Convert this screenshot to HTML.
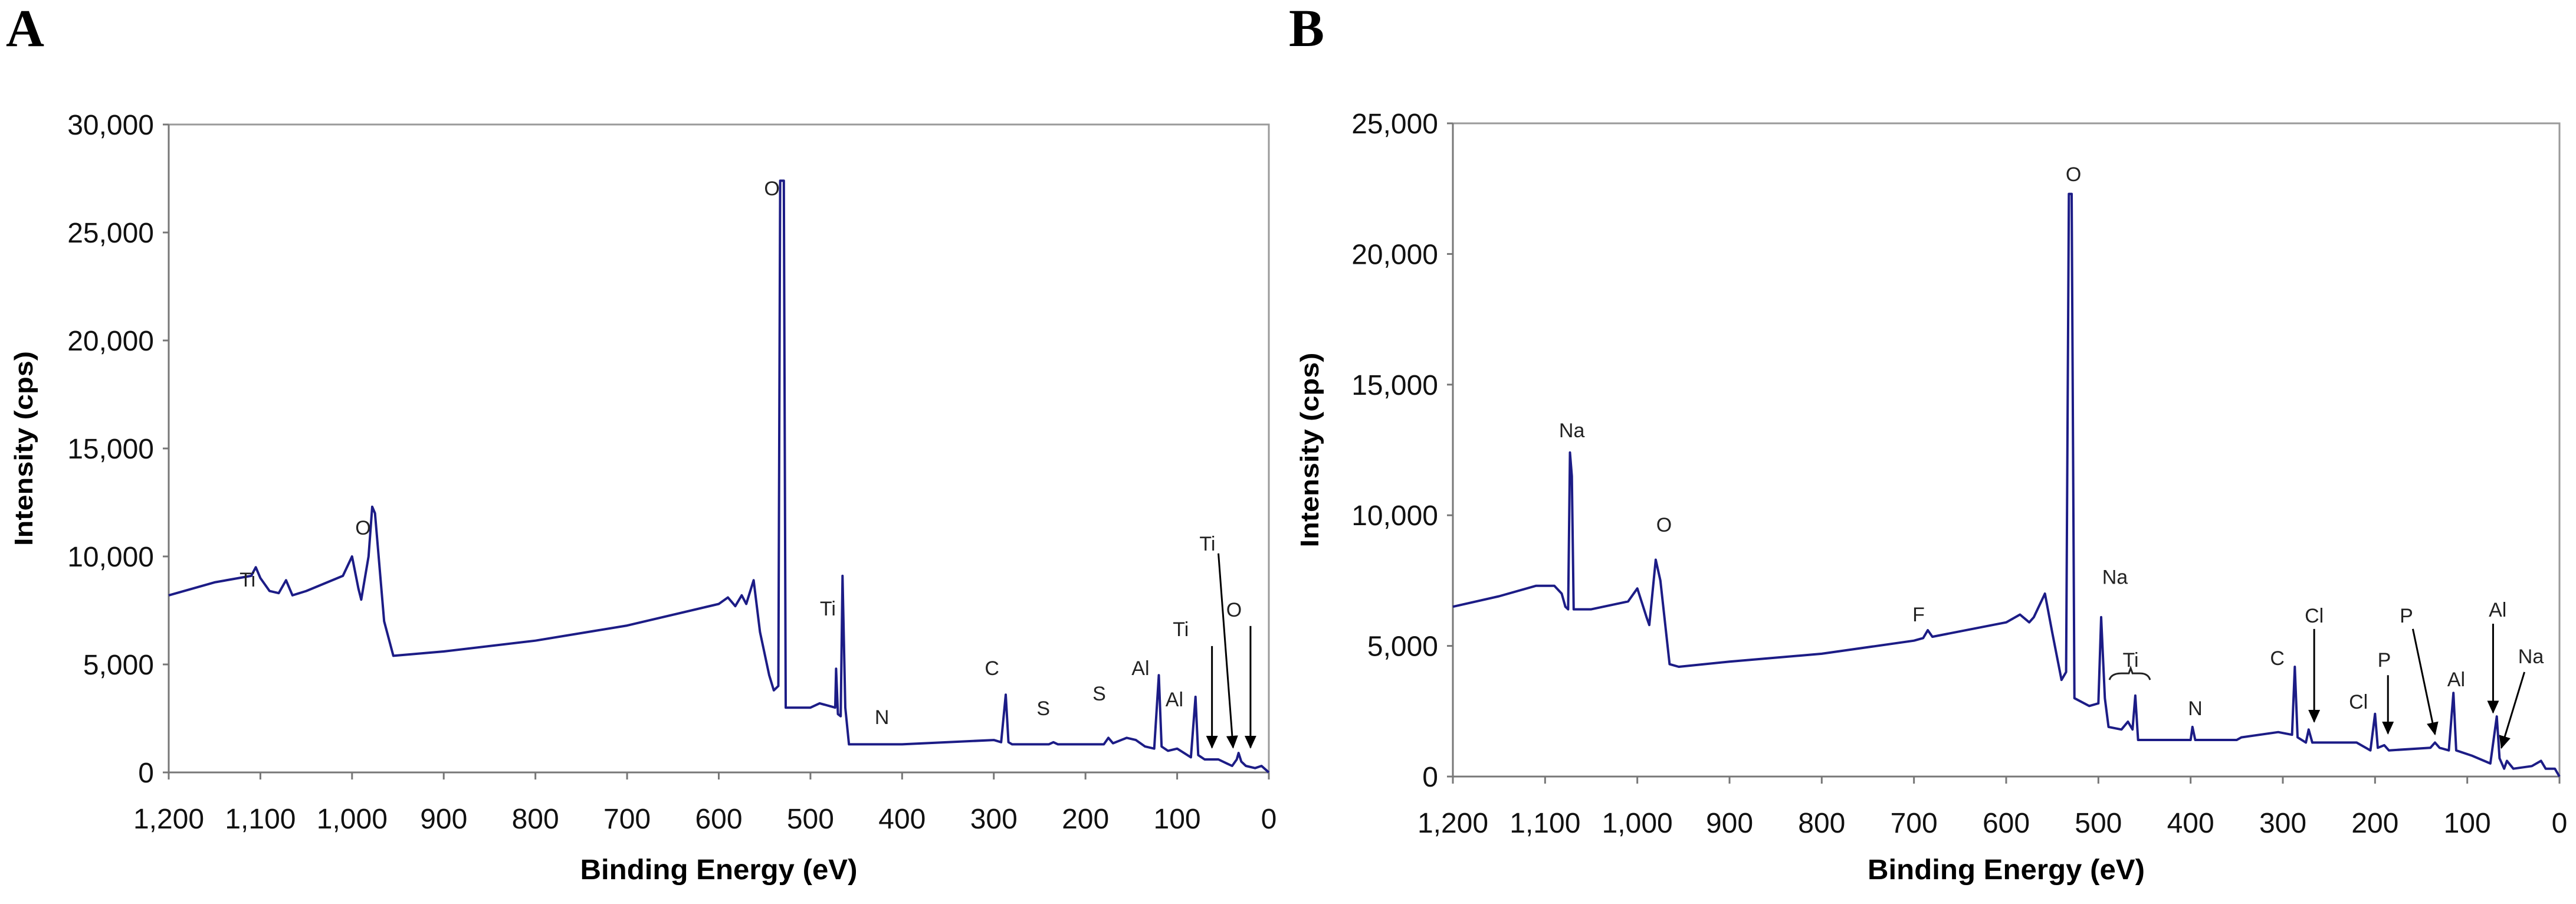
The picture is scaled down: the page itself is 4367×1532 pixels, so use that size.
<!DOCTYPE html>
<html><head><meta charset="utf-8"><style>
html,body{margin:0;padding:0;background:#fff;}
svg{display:block;font-family:"Liberation Sans",Arial,sans-serif;}
</style></head><body>
<svg id="chart" width="4367" height="1532" viewBox="0 0 4367 1532" xmlns="http://www.w3.org/2000/svg">
<text x="10" y="78" font-family="Liberation Serif,serif" font-weight="bold" font-size="90">A</text>
<text x="2185" y="78" font-family="Liberation Serif,serif" font-weight="bold" font-size="90">B</text>
</svg>
<script>
const xTicks=[1200,1100,1000,900,800,700,600,500,400,300,200,100,0];
const xTickLabels=["1,200","1,100","1,000","900","800","700","600","500","400","300","200","100","0"];
const aYTicks=[0,5000,10000,15000,20000,25000,30000];
const aYTickLabels=["0","5,000","10,000","15,000","20,000","25,000","30,000"];
const bYTicks=[0,5000,10000,15000,20000,25000];
const bYTickLabels=["0","5,000","10,000","15,000","20,000","25,000"];
const aBE=[1200,1150,1110,1105,1100,1090,1080,1072,1065,1050,1010,1000,993,990,982,978,975,965,955,900,800,700,600,590,582,575,570,562,555,545,540,535,533,529,527,500,490,473,472,470,467,465,462,458,400,300,292,287,284,280,240,235,230,180,175,170,155,145,135,125,120,117,110,100,85,80,77,70,55,45,40,35,33,30,25,15,8,0];
const aCps=[8200,8800,9100,9500,9000,8400,8300,8900,8200,8400,9100,10000,8500,8000,10000,12300,12000,7000,5400,5600,6100,6800,7800,8100,7700,8200,7800,8900,6500,4500,3800,4000,27400,27400,3000,3000,3200,3000,4800,2700,2600,9100,3000,1300,1300,1500,1400,3600,1400,1300,1300,1400,1300,1300,1600,1350,1600,1500,1200,1100,4500,1200,1000,1100,700,3500,800,600,600,400,300,600,900,500,300,200,300,0];
const bBE=[1200,1150,1110,1090,1082,1078,1075,1073,1071,1069,1050,1010,1000,990,987,980,975,965,955,900,800,700,690,685,680,600,585,575,570,558,550,540,535,532,529,526,510,500,497,493,489,475,468,463,460,457,400,398,395,350,345,305,290,287,284,275,272,268,220,215,205,200,197,190,185,140,135,130,120,115,112,95,75,68,65,60,57,50,30,20,15,5,0];
const bCps=[6500,6900,7300,7300,7000,6500,6400,12400,11500,6400,6400,6700,7200,6100,5800,8300,7500,4300,4200,4400,4700,5200,5300,5600,5350,5900,6200,5900,6100,7000,5500,3700,4000,22300,22300,3000,2700,2800,6100,3000,1900,1800,2100,1800,3100,1400,1400,1900,1400,1400,1500,1700,1600,4200,1500,1300,1800,1300,1300,1200,1000,2400,1100,1200,1000,1100,1300,1100,1000,3200,1000,800,500,2300,700,300,600,300,400,600,300,300,0];
const aLabelText=["O","Ti","O","Ti","N","C","S","S","Al","Al","Ti","Ti","O"];
const aLabelBE=[542,1114,988,481,422,302,246,185,140,103,96,67,38];
const aLabelCps=[27050,8930,11340,7600,2570,4840,2980,3660,4840,3390,6640,10600,7540];
const bLabelText=["Na","O","F","O","Na","Ti","N","C","Cl","Cl","P","P","Al","Al","Na"];
const bLabelBE=[1071,971,695,527,482,465,395,306,266,218,190,166,112,67,31];
const bLabelCps=[13260,9640,6210,23060,7650,4470,2620,4540,6160,2870,4470,6160,3730,6390,4610];
const aArrowBE1=[62,55,20], aArrowCps1=[5850,10140,6780], aArrowBE2=[62,39,20], aArrowCps2=[1150,1150,1150];
const bArrowBE1=[266,186,159,72,38], bArrowCps1=[5650,3880,5650,5850,4000], bArrowBE2=[266,186,135,72,63], bArrowCps2=[2100,1650,1620,2450,1100];

const NS="http://www.w3.org/2000/svg";
const svg=document.getElementById('chart');
function mk(tag,attrs,parent){const e=document.createElementNS(NS,tag);for(const k in attrs)e.setAttribute(k,attrs[k]);(parent||svg).appendChild(e);return e;}
const defs=mk('defs',{});
const mkr=mk('marker',{id:'ah',markerWidth:'8',markerHeight:'8',refX:'7',refY:'4',orient:'auto',markerUnits:'userSpaceOnUse'},defs);
mk('path',{d:'M0,0 L8,4 L0,8 Z',fill:'#000'},mkr);
mkr.setAttribute('markerWidth','24');mkr.setAttribute('markerHeight','24');mkr.firstChild.setAttribute('d','M0,0 L22,10 L0,20 Z');mkr.setAttribute('refX','20');mkr.setAttribute('refY','10');

function panel(p){
  const g=mk('g',{});
  
  
  const X=be=>p.L+(1200-be)/1200*(p.R-p.L);
  const Y=v=>p.B-v/p.ymax*(p.B-p.T);
  const frame=mk('rect',{x:p.L,y:p.T,width:p.R-p.L,height:p.B-p.T,fill:'none',stroke:'#9a9a9a','stroke-width':3},g);
  
  
  mk('line',{x1:p.L,y1:p.T,x2:p.L,y2:p.B,stroke:'#777','stroke-width':3},g);
  mk('line',{x1:p.L,y1:p.B,x2:p.R,y2:p.B,stroke:'#777','stroke-width':3},g);
  xTicks.forEach((t,i)=>{
    mk('line',{x1:X(t),y1:p.B,x2:X(t),y2:p.B+12,stroke:'#777','stroke-width':3},g);
    const tx=mk('text',{x:X(t),y:p.B+95,'font-size':48,'text-anchor':'middle',fill:'#111'},g);
    tx.textContent=xTickLabels[i];
    
    
  });
  p.yt.forEach((t,i)=>{
    mk('line',{x1:p.L-10,y1:Y(t),x2:p.L,y2:Y(t),stroke:'#777','stroke-width':3},g);
    const tx=mk('text',{x:p.L-25,y:Y(t)+17,'font-size':48,'text-anchor':'end',fill:'#111'},g);
    tx.textContent=p.ytl[i];
    
    
  });
  const xt=mk('text',{x:(p.L+p.R)/2,y:1490,'font-size':48,'font-weight':'bold','text-anchor':'middle',textLength:470,lengthAdjust:'spacingAndGlyphs',fill:'#000'},g);
  xt.textContent='Binding Energy (eV)';
  
  
  const cx=p.yx, cy=(p.T+p.B)/2;
  const yt=mk('text',{x:cx,y:cy,'font-size':44,'font-weight':'bold','text-anchor':'middle',transform:`rotate(-90 ${cx} ${cy})`,textLength:330,lengthAdjust:'spacingAndGlyphs',fill:'#000'},g);
  yt.textContent='Intensity (cps)';
  
  
  const pts=p.be.map((b,i)=>X(b).toFixed(1)+','+Y(p.cps[i]).toFixed(1)).join(' ');
  const line=mk('polyline',{points:pts,fill:'none',stroke:'#1c1c86','stroke-width':4,'stroke-linejoin':'round'},g);
  
  
  p.lt.forEach((t,i)=>{
    const tx=mk('text',{x:X(p.lbe[i]),y:Y(p.lc[i])+12,'font-size':34,'text-anchor':'middle',fill:'#222'},g);
    tx.textContent=t;
    
    
  });
  p.a1.forEach((b,i)=>{
    const ar=mk('line',{x1:X(b),y1:Y(p.c1[i]),x2:X(p.a2[i]),y2:Y(p.c2[i]),stroke:'#000','stroke-width':3,'marker-end':'url(#ah)'},g);
    
    
  });
  return {X,Y,g};
}
panel({name:'panel-a-chart',L:286,R:2151,T:211,B:1309,ymax:30000,yt:aYTicks,ytl:aYTickLabels,yx:55,be:aBE,cps:aCps,lt:aLabelText,lbe:aLabelBE,lc:aLabelCps,a1:aArrowBE1,c1:aArrowCps1,a2:aArrowBE2,c2:aArrowCps2});
const pb=panel({name:'panel-b-chart',L:2463,R:4339,T:209,B:1316,ymax:25000,yt:bYTicks,ytl:bYTickLabels,yx:2235,be:bBE,cps:bCps,lt:bLabelText,lbe:bLabelBE,lc:bLabelCps,a1:bArrowBE1,c1:bArrowCps1,a2:bArrowBE2,c2:bArrowCps2});
const br=mk('path',{d:`M${pb.X(488)},${pb.Y(3700)} Q${pb.X(486)},${pb.Y(3950)} ${pb.X(475)},${pb.Y(3950)} L${pb.X(467)},${pb.Y(3950)} L${pb.X(465)},${pb.Y(4150)} L${pb.X(463)},${pb.Y(3950)} L${pb.X(455)},${pb.Y(3950)} Q${pb.X(446)},${pb.Y(3950)} ${pb.X(444)},${pb.Y(3700)}`,fill:'none',stroke:'#222','stroke-width':3},pb.g);


</script>
</body></html>
